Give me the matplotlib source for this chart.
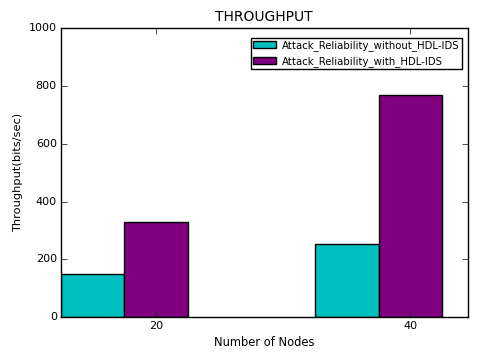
import matplotlib
matplotlib.use("Agg")
import matplotlib.pyplot as plt
import numpy as np

plt.style.use("classic")

categories = ["20", "40"]
without_ids = [150, 255]
with_ids = [328, 770]

fig, ax = plt.subplots(figsize=(4.8, 3.6), dpi=100)
fig.subplots_adjust(left=0.127, right=0.974, top=0.921, bottom=0.119)
fig.patch.set_facecolor("white")

ind = np.arange(len(categories))
width = 0.25
ax.bar(ind, without_ids, width, align="edge", color="c", label="Attack_Reliability_without_HDL-IDS")
ax.bar(ind + width, with_ids, width, align="edge", color="purple", label="Attack_Reliability_with_HDL-IDS")

ax.set_xlim(0, 1.6)
ax.set_ylim(0, 1000)
ax.set_xticks(ind + 1.5 * width)
ax.set_xticklabels(categories)
ax.set_yticks([0, 200, 400, 600, 800, 1000])
ax.tick_params(labelsize=8, pad=3)
ax.set_title("THROUGHPUT", fontsize=10, pad=5)
ax.set_xlabel("Number of Nodes", fontsize=8.3, labelpad=3.5)
ax.set_ylabel("Throughput(bits/sec)", fontsize=8.2, labelpad=4)
ax.legend(loc="upper right", fontsize=7.3, labelspacing=0.5, borderpad=0.2,
          handlelength=2.3, handletextpad=0.6,
          bbox_to_anchor=(0.9865, 0.9675), borderaxespad=0.0)

fig.savefig("out.png", dpi=100, facecolor="white")
